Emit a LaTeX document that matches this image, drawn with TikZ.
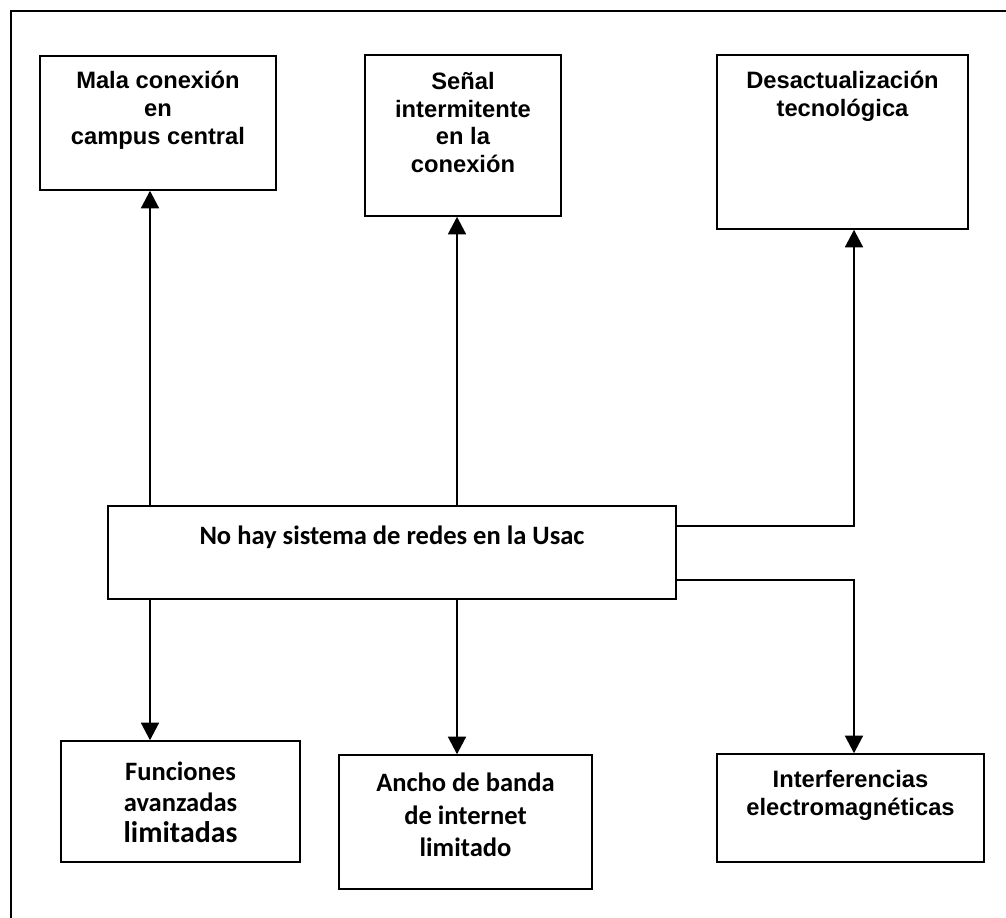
\documentclass[tikz,border=0pt]{standalone}
\usepackage{fontspec}
\setmainfont{Liberation Sans}
\newfontfamily\calibri{Carlito}
\usetikzlibrary{arrows.meta}

\tikzset{
  box/.style={draw, line width=0.8pt},
  arialtext/.style={font=\fontsize{13.5}{15.9}\selectfont\bfseries, align=center},
  calitext/.style={font=\calibri\fontsize{15.1}{17.6}\selectfont\bfseries, align=center},
  arr/.style={line width=1.6pt, -{Triangle[length=10pt, width=10pt]}}
}

\begin{document}
\begin{tikzpicture}[x=0.02cm, y=-0.02cm]
  \useasboundingbox (0,0) rectangle (1006,918);

  % Frame
  \draw[line width=1.3pt] (11,918) -- (11,11) -- (1006,11);

  % Top boxes
  \node[box, minimum width=4.72cm, minimum height=2.68cm] (mala) at (158,123) {};
  \node[arialtext] (malatxt) at (158,110) {Mala conexión\\en\\campus central};

  \node[box, minimum width=3.92cm, minimum height=3.22cm] (senal) at (463,135.5) {};
  \node[arialtext] (senaltxt) at (463,122.5) {Señal\\intermitente\\en la\\conexión};

  \node[box, minimum width=5.02cm, minimum height=3.48cm] (desact) at (842.5,142) {};
  \node[arialtext] (desacttxt) at (842.5,96) {Desactualización\\tecnológica};

  % Central problem
  \node[box, minimum width=11.36cm, minimum height=1.86cm] (usac) at (392,552.5) {};
  \node[calitext] (usactxt) at (392,537) {No hay sistema de redes en la Usac};

  % Bottom boxes
  \node[box, minimum width=4.78cm, minimum height=2.42cm] (func) at (180.5,801.5) {};
  \node[calitext] (functxt) at (180.5,802)
    {Funciones\\avanzadas\\{\fontsize{17}{17.6}\selectfont limitadas}};

  \node[box, minimum width=5.06cm, minimum height=2.68cm] (ancho) at (465.5,822) {};
  \node[calitext, font=\calibri\fontsize{15.1}{18.5}\selectfont\bfseries] (anchotxt) at (465.5,815)
    {Ancho de banda\\de internet\\limitado};

  \node[box, minimum width=5.34cm, minimum height=2.16cm] (interf) at (850.5,808) {};
  \node[arialtext] (interftxt) at (850.5,795) {Interferencias\\electromagnéticas};

  % Columns and rows of the connectors
  \coordinate (colA) at (150,0);
  \coordinate (colB) at (457,0);
  \coordinate (colC) at (854,0);
  \coordinate (rowA) at (0,526);
  \coordinate (rowB) at (0,580);

  % Upwards
  \draw[arr] (colA |- usac.north) -- (colA |- mala.south);
  \draw[arr] (colB |- usac.north) -- (colB |- senal.south);
  \draw[arr] (usac.east |- rowA) -| (colC |- desact.south);

  % Downwards
  \draw[arr] (colA |- usac.south) -- (colA |- func.north);
  \draw[arr] (colB |- usac.south) -- (colB |- ancho.north);
  \draw[arr] (usac.east |- rowB) -| (colC |- interf.north);
\end{tikzpicture}
\end{document}
